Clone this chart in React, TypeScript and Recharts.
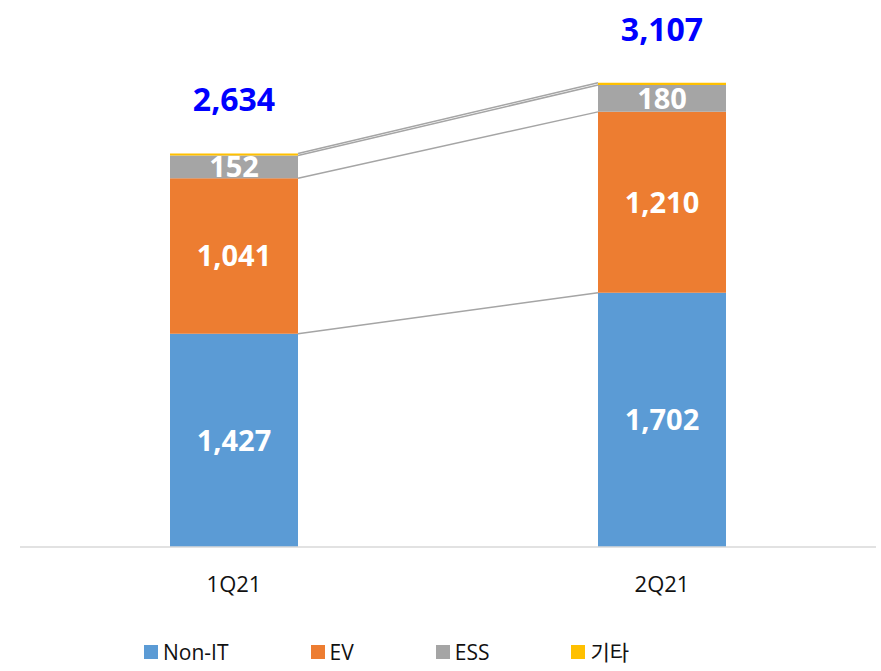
import { BarChart, Bar, XAxis, YAxis, Legend, LabelList, ReferenceLine } from 'recharts'

const quarters = ['1Q21', '2Q21']
const nonIt = [1427, 1702]
const ev = [1041, 1210]
const ess = [152, 180]
const etc = [14, 15]
const totals = [2634, 3107]

const series = [
  { key: 'nonIt', name: 'Non-IT', color: '#5B9BD5' },
  { key: 'ev', name: 'EV', color: '#ED7D31' },
  { key: 'ess', name: 'ESS', color: '#A5A5A5' },
  { key: 'etc', name: '기타', color: '#FFC000' },
]

const data = quarters.map((q, i) => ({
  quarter: q,
  nonIt: nonIt[i],
  ev: ev[i],
  ess: ess[i],
  etc: etc[i],
  total: totals[i],
}))

// cumulative tops of each segment, used for the connector lines between bars
const levels = data.map((d) => {
  let acc = 0
  return series.map((s) => (acc += (d as any)[s.key]))
})

const FONT = '"Open Sans", "Noto Sans CJK KR", sans-serif'
const HALF_BAR = 64

const fmt = (v: any) => Number(v).toLocaleString('en-US')

function ChartLegend() {
  return (
    <div style={{ display: 'flex', gap: 82, paddingLeft: 124, fontFamily: FONT, fontSize: 21, color: '#111', lineHeight: '26px' }}>
      {series.map((s) => (
        <div key={s.key} style={{ display: 'flex', alignItems: 'center', gap: 5 }}>
          <span style={{ width: 14, height: 14, background: s.color, display: 'inline-block' }} />
          <span>{s.name}</span>
        </div>
      ))}
    </div>
  )
}

export default function App() {
  return (
    <div style={{ width: 881, height: 671, background: '#fff' }}>
      <style>{`body{margin:0}`}</style>
      <BarChart
        width={881}
        height={671}
        data={data}
        barSize={128}
        margin={{ top: 24, right: 5, left: 20, bottom: 6 }}
        style={{ fontFamily: FONT }}
      >
        <XAxis
          dataKey="quarter"
          axisLine={{ stroke: '#D9D9D9', strokeWidth: 1.5 }}
          tickLine={false}
          tick={{ fill: '#111', fontSize: 22 }}
          tickMargin={23}
          height={92}
        />
        <YAxis hide domain={[0, 3500]} />
        <Legend verticalAlign="bottom" content={<ChartLegend />} />
        {series.map((s, si) => (
          <ReferenceLine
            key={'line-' + s.key}
            segment={[
              { x: quarters[0], y: levels[0][si] },
              { x: quarters[1], y: levels[1][si] },
            ]}
            shape={(p: any) => (
              <line
                x1={p.x1 + HALF_BAR}
                y1={p.y1}
                x2={p.x2 - HALF_BAR}
                y2={p.y2}
                stroke="#A5A5A5"
                strokeWidth={1.5}
              />
            )}
          />
        ))}
        {series.map((s, si) => (
          <Bar key={s.key} dataKey={s.key} name={s.name} stackId="a" fill={s.color} isAnimationActive={false}>
            {si < 3 && (
              <LabelList
                dataKey={s.key}
                position="center"
                formatter={fmt}
                fill="#fff"
                fontSize={29}
                fontWeight="bold"
              />
            )}
            {si === 3 && (
              <LabelList
                dataKey="total"
                position="top"
                offset={42}
                formatter={fmt}
                fill="#0000FF"
                fontSize={32}
                fontWeight="bold"
              />
            )}
          </Bar>
        ))}
      </BarChart>
    </div>
  )
}
